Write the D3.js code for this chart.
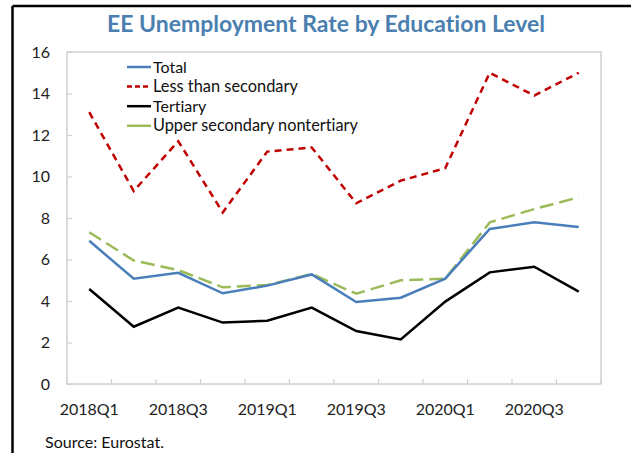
<!DOCTYPE html>
<html><head><meta charset="utf-8">
<script src="https://cdn.jsdelivr.net/npm/d3@7"></script>
<style>body{margin:0;background:#fff;} text{font-family:Lato,"Open Sans",sans-serif;font-variant-ligatures:none;font-feature-settings:"liga" 0;}</style>
</head><body>
<svg id="c" width="631" height="453"></svg>
<script>
const quarters = ["2018Q1","2018Q2","2018Q3","2018Q4","2019Q1","2019Q2","2019Q3","2019Q4","2020Q1","2020Q2","2020Q3","2020Q4"];
const total = [6.9,5.07,5.36,4.37,4.74,5.28,3.95,4.16,5.08,7.47,7.79,7.57];
const lessThanSecondary = [13.1,9.3,11.7,8.27,11.2,11.4,8.71,9.8,10.4,15.0,13.9,15.0];
const tertiary = [4.58,2.76,3.68,2.96,3.05,3.68,2.55,2.15,3.97,5.38,5.65,4.45];
const upperSecondary = [7.31,5.95,5.49,4.66,4.77,5.3,4.35,5.0,5.08,7.79,8.43,9.0];
const yTicks = [0,2,4,6,8,10,12,14,16];
const xLabels = ["2018Q1","2018Q3","2019Q1","2019Q3","2020Q1","2020Q3"];

const series = [
  {name:"Total", values: total, color:"#4a7ebb", dash:null, legDash:null},
  {name:"Less than secondary", values: lessThanSecondary, color:"#c00000", dash:"7,5", legDash:"5,3"},
  {name:"Tertiary", values: tertiary, color:"#000000", dash:null, legDash:null},
  {name:"Upper secondary nontertiary", values: upperSecondary, color:"#9bbb59", dash:"14,6", legDash:null}
];

const svg = d3.select("#c");
const L = 67, R = 601, T = 52, B = 384;

svg.append("line").attr("x1",12.5).attr("x2",631).attr("y1",6).attr("y2",6).attr("stroke","#000").attr("stroke-width",2.5);
svg.append("line").attr("x1",12.5).attr("x2",12.5).attr("y1",6).attr("y2",453).attr("stroke","#000").attr("stroke-width",2.5);

function fit(sel, w){ const n=sel.node(); const cur=n.getComputedTextLength(); const fs=parseFloat(sel.attr("font-size")); sel.attr("font-size", fs*w/cur); }

const title = svg.append("text").attr("x",326).attr("y",32).attr("text-anchor","middle")
  .attr("font-size",20).attr("font-weight","bold").attr("fill","#4a7fb0")
  .text("EE Unemployment Rate by Education Level");
fit(title, 438);

const x = d3.scaleBand().domain(quarters).range([L,R]);
const y = d3.scaleLinear().domain([0,16]).range([B,T]);

svg.append("rect").attr("x",L).attr("y",T).attr("width",R-L).attr("height",B-T)
  .attr("fill","none").attr("stroke","#d0d0d0").attr("stroke-width",1.5);

const yAxis = svg.append("g").attr("transform",`translate(${L},0)`)
  .call(d3.axisRight(y).tickValues(yTicks).tickSize(5).tickFormat(d3.format("d")));
yAxis.select(".domain").remove();
yAxis.selectAll("line").attr("stroke","#d0d0d0").attr("stroke-width",1.2);
yAxis.selectAll("text").attr("x",-17).attr("text-anchor","end").attr("font-size",16).attr("fill","#222");

const boundaries = quarters.map(q => x(q)).concat([R]);
svg.append("g").selectAll("line").data(boundaries).join("line")
  .attr("x1",d=>d).attr("x2",d=>d).attr("y1",B).attr("y2",B-5)
  .attr("stroke","#d0d0d0").attr("stroke-width",1.2);
svg.append("g").selectAll("text").data(xLabels).join("text")
  .attr("x",d=>x(d)+x.bandwidth()/2).attr("y",415).attr("text-anchor","middle")
  .attr("font-size",16).attr("fill","#222").text(d=>d);

const line = d3.line().x((d,i)=>x(quarters[i])+x.bandwidth()/2).y(d=>y(d));
[1,3,0,2].forEach(k => {
  const s = series[k];
  svg.append("path").datum(s.values).attr("d",line).attr("fill","none")
    .attr("stroke",s.color).attr("stroke-width",2.5)
    .attr("stroke-dasharray",s.dash).attr("stroke-linejoin","miter");
});

const lg = svg.append("g");
series.forEach((s,i) => {
  const yy = 67 + i*19.6;
  lg.append("line").attr("x1",127).attr("x2",151).attr("y1",yy).attr("y2",yy)
    .attr("stroke",s.color).attr("stroke-width",2.5).attr("stroke-dasharray",s.legDash);
  const t = lg.append("text").attr("x",153).attr("y",yy+5.5).attr("font-size",16).attr("fill","#111").text(s.name);
  if (i===3) fit(t, 205);
  if (i===1) fit(t, 145);
});

const src = svg.append("text").attr("x",45).attr("y",448).attr("font-size",16).attr("fill","#111").text("Source: Eurostat.");
fit(src, 119);
</script>
</body></html>
